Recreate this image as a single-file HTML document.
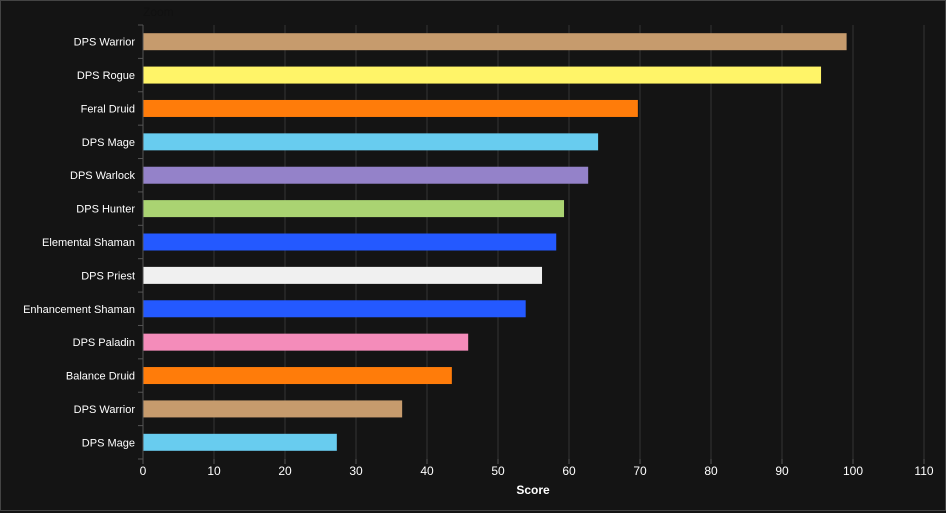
<!DOCTYPE html>
<html><head><meta charset="utf-8"><style>
html,body{margin:0;padding:0;background:#141414;}
svg{display:block;font-family:"Liberation Sans","DejaVu Sans",sans-serif;}
</style></head><body>
<svg id="chart" width="946" height="513" xmlns="http://www.w3.org/2000/svg">
<rect x="0" y="0" width="946" height="513" fill="#141414"/>
<rect x="0.5" y="0.5" width="945" height="510" fill="none" stroke="#444" stroke-width="1"/>
<text x="143" y="16" font-size="12" fill="#111">Zoom</text>
<g id="grid"></g><g id="bars"></g><g id="axes"></g>
<text x="533" y="494" font-size="12" font-weight="bold" fill="#fff" text-anchor="middle">Score</text>
</svg>
<script>
const categories = ["DPS Warrior","DPS Rogue","Feral Druid","DPS Mage","DPS Warlock","DPS Hunter","Elemental Shaman","DPS Priest","Enhancement Shaman","DPS Paladin","Balance Druid","DPS Warrior","DPS Mage"];
const values = [99.1,95.5,69.7,64.1,62.7,59.3,58.2,56.2,53.9,45.8,43.5,36.5,27.3];
const colors = ["#c69b6d","#fff468","#ff7c0a","#68ccef","#9482c9","#aad372","#2459ff","#f0f0f0","#2459ff","#f48cba","#ff7c0a","#c69b6d","#68ccef"];
const xTicks = [0,10,20,30,40,50,60,70,80,90,100,110];
const NS="http://www.w3.org/2000/svg";
const x0=143, pxPer=7.1, plotTop=25, plotBottom=459;
const band=(plotBottom-plotTop)/categories.length;
function xs(v){return x0+v*pxPer;}
function ys(i){return plotTop+i*band;}
function mk(t,a,p){const e=document.createElementNS(NS,t);for(const k in a)e.setAttribute(k,a[k]);p.appendChild(e);return e;}
const grid=document.getElementById('grid'),bars=document.getElementById('bars'),axes=document.getElementById('axes');
xTicks.forEach(t=>{
  if(t>0){const g=mk('line',{x1:xs(t),x2:xs(t),y1:plotTop,y2:plotBottom,stroke:'#333','stroke-width':1},grid);
  
  }
  const l=mk('line',{x1:xs(t),x2:xs(t),y1:plotBottom,y2:plotBottom+5,stroke:'#555'},axes);
  
  
  const tx=mk('text',{x:xs(t),y:plotBottom+16,'font-size':12,fill:'#fff','text-anchor':'middle'},axes);
  tx.textContent=t;
  
  
});
const ax=mk('line',{x1:x0,x2:x0,y1:plotTop,y2:plotBottom,stroke:'#555'},axes);


for(let i=0;i<=categories.length;i++){
  const t=mk('line',{x1:x0-5,x2:x0,y1:ys(i),y2:ys(i),stroke:'#555'},axes);
  
  
}
categories.forEach((c,i)=>{
  const bh=17, cy=ys(i)+band/2;
  const r=mk('rect',{x:x0,y:cy-bh/2,width:xs(values[i])-x0,height:bh,fill:colors[i]},bars);
  
  
  const tx=mk('text',{x:x0-8,y:cy+4,'font-size':11,fill:'#fff','text-anchor':'end'},axes);
  tx.textContent=c;
  
  
});
</script>
</body></html>
